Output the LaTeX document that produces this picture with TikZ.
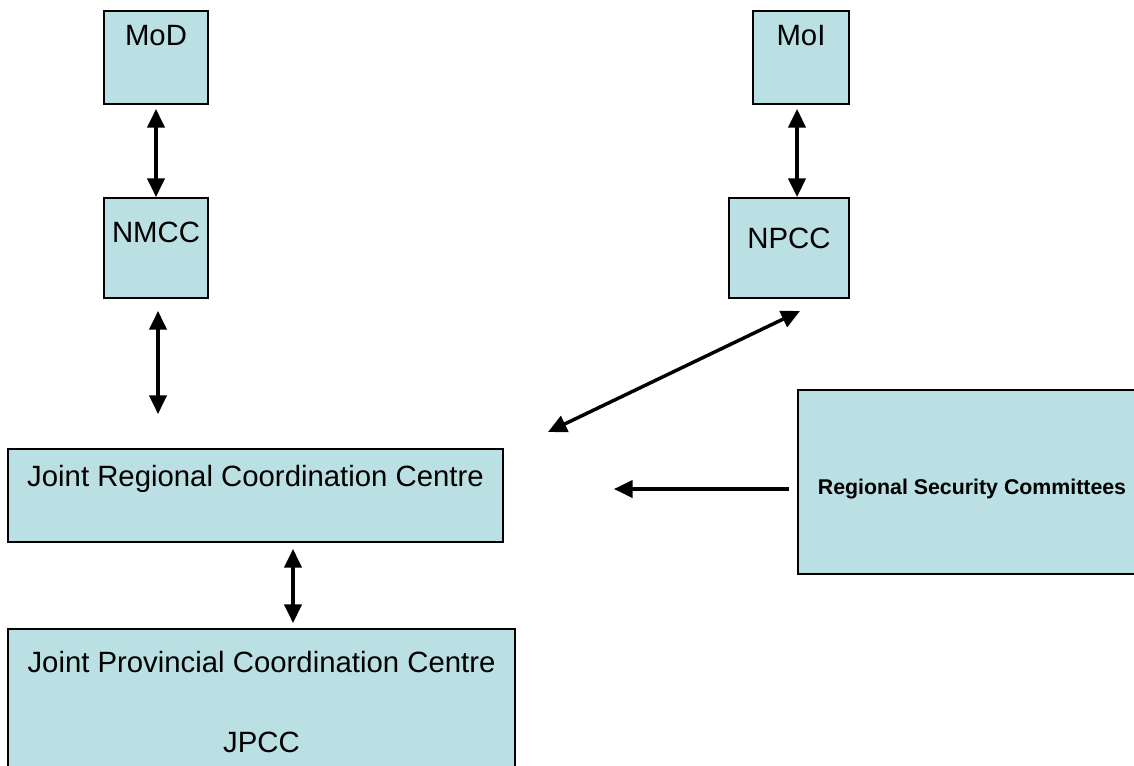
\documentclass[tikz,border=0pt]{standalone}
\usepackage{fontspec}
\setmainfont{Liberation Sans}
\usetikzlibrary{arrows.meta,calc}
\definecolor{boxfill}{RGB}{186,224,227}
\begin{document}
\begin{tikzpicture}[x=0.75pt,y=-0.75pt,
  box/.style={draw=black,line width=1.5pt,fill=boxfill,rectangle,inner sep=0pt},
  txt/.style={font=\fontsize{22}{26}\selectfont,inner sep=0pt},
  boldtxt/.style={font=\fontsize{16}{19}\selectfont\bfseries,inner sep=0pt},
  link/.style={line width=2.6pt,{Triangle[length=14pt,width=13pt]}-{Triangle[length=14pt,width=13pt]}},
  oneway/.style={line width=2.6pt,-{Triangle[length=14pt,width=13pt]}}]
\clip (0,0) rectangle (1134,766);
\fill[white] (0,0) rectangle (1134,766);

% boxes
\node[box,minimum width=104*0.75pt,minimum height=93*0.75pt] (mod) at (156,57.5) {};
\node[box,minimum width=96*0.75pt,minimum height=93*0.75pt] (moi) at (801,57.5) {};
\node[box,minimum width=104*0.75pt,minimum height=100*0.75pt] (nmcc) at (156,248) {};
\node[box,minimum width=120*0.75pt,minimum height=100*0.75pt] (npcc) at (789,248) {};
\node[box,minimum width=495*0.75pt,minimum height=93*0.75pt] (jrcc) at (255.5,495.5) {};
\node[box,minimum width=348*0.75pt,minimum height=184*0.75pt] (rsc) at (972,482) {};
\node[box,minimum width=507*0.75pt,minimum height=150*0.75pt] (jpcc) at (261.5,704) {};

% labels
\node[txt] at (156,36) {MoD};
\node[txt] at (801,36) {MoI};
\node[txt] at (156,232) {NMCC};
\node[txt] at (789,238) {NPCC};
\node[txt] at (255.5,479) {Joint Regional Coordination Centre};
\node[boldtxt] at (972,489) {Regional Security Committees};
\node[txt] at (261.5,662) {Joint Provincial Coordination Centre};
\node[txt] at (261.5,742) {JPCC};

% connector end points
\coordinate (jrccne) at (548,432);
\coordinate (npccsw) at (800,311);
\coordinate (rscin) at (614,489);

% connectors
\draw[link,shorten <=3pt,shorten >=0pt] (mod.south) -- (nmcc.north);
\draw[link,shorten <=3pt,shorten >=0pt] (moi.south -| 797,0) -- (npcc.north -| 797,0);
\draw[link] ($(nmcc.south -| 158,0)+(0,12)$) -- ($(jrcc.north -| 158,0)+(0,-34)$);
\draw[link] ($(jrcc.south -| 293,0)+(0,6)$) -- ($(jpcc.north -| 293,0)+(0,-5)$);
\draw[link] (jrccne) -- (npccsw);
\draw[oneway] ($(rsc.west |- rscin)+(-8,0)$) -- (rscin);
\end{tikzpicture}
\end{document}
